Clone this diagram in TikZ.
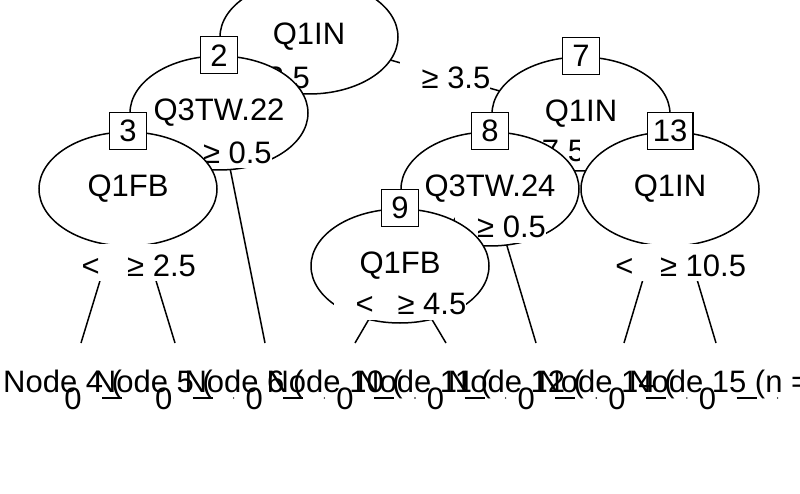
\documentclass[tikz,border=0pt]{standalone}
\usepackage{fontspec}
\setmainfont{Liberation Sans}
\usetikzlibrary{shapes.geometric}

\tikzset{
  innode/.style={ellipse, draw, fill=white, line width=1.5pt, minimum width=178pt,
    minimum height=114pt, inner xsep=-15pt, inner ysep=0pt},
  idbox/.style={draw, fill=white, line width=1.5pt, minimum width=37pt,
    minimum height=37pt, inner xsep=5.5pt, inner ysep=0pt},
  elbl/.style={fill=white, inner xsep=0pt, inner ysep=0pt, text height=32pt, text depth=5pt},
  branch/.style={line width=1.5pt},
  ttext/.style={anchor=base west, inner sep=0pt},
}

\begin{document}
\begin{tikzpicture}[x=1pt, y=-1pt, font=\fontsize{31}{37}\selectfont]
  \useasboundingbox (0,0) rectangle (800,494);
  \clip (0,0) rectangle (800,494);

  % split points and terminal ends
  \coordinate (c1) at (309,37);
  \coordinate (c2) at (219,113);
  \coordinate (c3) at (128,189);
  \coordinate (c7) at (581,114);
  \coordinate (c8) at (490,189);
  \coordinate (c9) at (400,266);
  \coordinate (c13) at (670,189);
  \foreach \t/\x in {4/81, 5/175, 6/265, 10/355, 11/446, 12/536, 14/624, 15/716}
    \coordinate (t\t) at (\x,343);

  % node 1
  \draw[branch] (c1) -- (c2) (c1) -- (c7);
  \node[innode] (n1) at (c1) {Q1IN};
  \path (c1) -- (c2) node[elbl, pos=.5] (s1a) {\kern22pt\phantom{<} 3.5};
  \path (c1) -- (c7) node[elbl, pos=.5] (s1b) {\kern22pt≥ 3.5};

  % node 2
  \draw[branch] (c2) -- (c3) (c2) -- (t6);
  \node[innode] (n2) at (c2) {Q3TW.22};
  \path (c2) -- (t6) node[elbl, pos=.16] (s2b) {\kern22pt≥ 0.5};
  \node[idbox] (b2) at (n2.north) {2};

  % node 3
  \draw[branch] (c3) -- (t4) (c3) -- (t5);
  \node[innode] (n3) at (c3) {Q1FB};
  \path (c3) -- (t4) node[elbl, pos=.48] (s3a) {\kern22pt< \phantom{2.5}};
  \path (c3) -- (t5) node[elbl, pos=.48] (s3b) {\kern22pt≥ 2.5};
  \node[idbox] (b3) at (n3.north) {3};

  % node 7
  \draw[branch] (c7) -- (c8) (c7) -- (c13);
  \node[innode] (n7) at (c7) {Q1IN};
  \path (c7) -- (c8) node[elbl, pos=.46] (s7a) {\kern22pt\phantom{<} 7.5};
  \path (c7) -- (c13) node[elbl, pos=.46, xshift=3pt] (s7b) {\kern22pt\phantom{≥ 7.5}};
  \node[idbox] (b7) at (n7.north) {7};

  % node 8
  \draw[branch] (c8) -- (c9) (c8) -- (t12);
  \node[innode] (n8) at (c8) {Q3TW.24};
  \path (c8) -- (c9) node[elbl, pos=.46] (s8a) {\kern22pt\phantom{<} 0.5};
  \path (c8) -- (t12) node[elbl, pos=.23] (s8b) {\kern22pt≥ 0.5};
  \node[idbox] (b8) at (n8.north) {8};

  % node 9
  \draw[branch] (c9) -- (t10) (c9) -- (t11);
  \node[innode] (n9) at (c9) {Q1FB};
  \path (c9) -- (t10) node[elbl, pos=.455] (s9a) {\kern22pt< \phantom{4.5}};
  \path (c9) -- (t11) node[elbl, pos=.455] (s9b) {\kern22pt≥ 4.5};
  \node[idbox] (b9) at (n9.north) {9};

  % node 13
  \draw[branch] (c13) -- (t14) (c13) -- (t15);
  \node[innode] (n13) at (c13) {Q1IN};
  \path (c13) -- (t14) node[elbl, pos=.48] (s13a) {\kern22pt< \phantom{10.5}};
  \path (c13) -- (t15) node[elbl, pos=.48] (s13b) {\kern22pt≥ 10.5};
  \node[idbox] (b13) at (n13.north) {13};

  % terminal panels
  \foreach \t/\x/\txt [count=\i from 0] in {4/3/{Node 4 (}, 5/93.7/{Node 5 (},
      6/184.3/{Node 6 (}, 10/266.4/{Node 10 (}, 11/357/{Node 11 (},
      12/447.7/{Node 12 (}, 14/538.3/{Node 14 (}, 15/629/{Node 15 (n =}} {
    \node[ttext] (h\t) at (\x,392) {\txt};
    \node (z\t) at (73+90.65*\i,399) {0};
    \draw[line width=1.5pt] (102+90.65*\i,398) -- (122+90.65*\i,398);
  }
  \foreach \i in {1,...,7}
    \fill (143+90.65*\i,398) circle (0.8);
\end{tikzpicture}
\end{document}
